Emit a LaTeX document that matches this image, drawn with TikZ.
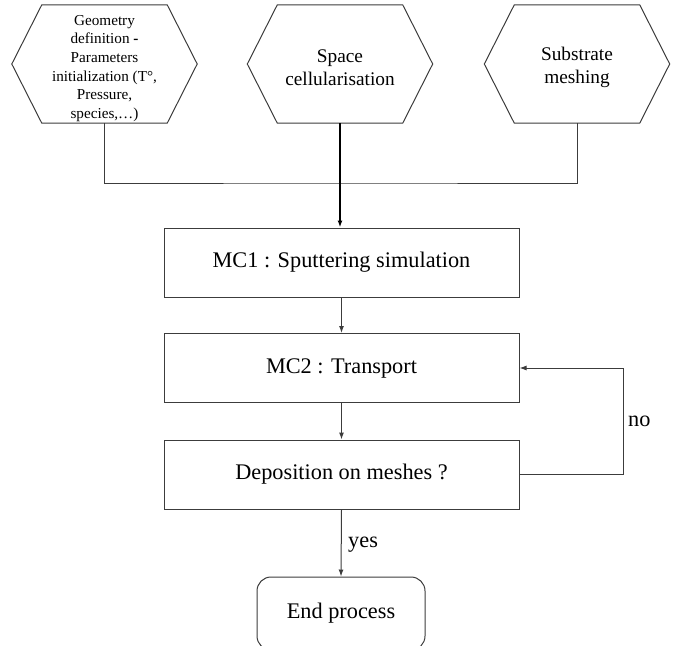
\documentclass[tikz,border=0pt]{standalone}
\usepackage{fontspec}
\setmainfont{Liberation Serif}
\usetikzlibrary{arrows.meta,calc}
\definecolor{edgegray}{HTML}{3C3C3C}
\begin{document}
\begin{tikzpicture}[x=1pt,y=-1pt,
  hexbox/.style={draw=none,minimum width=185pt,minimum height=118pt,align=center,inner sep=0pt},
  procbox/.style={draw=edgegray,line width=1pt,minimum width=355pt,minimum height=69pt,font=\fontsize{22.3}{26}\selectfont},
  endbox/.style={draw=edgegray,line width=1pt,rounded corners=14pt,minimum width=168pt,minimum height=73pt,font=\fontsize{22.3}{26}\selectfont},
  conn/.style={draw=edgegray,line width=1pt},
  thickconn/.style={draw=black,line width=1.8pt},
  tip/.style={-{Latex[length=7pt,width=5pt]}},
  lbl/.style={font=\fontsize{22.3}{26}\selectfont,inner sep=0pt}
]
\useasboundingbox (0,0) rectangle (676,645);
\newcommand{\hexdraw}[1]{%
  \draw[conn] (#1.west) -- ([xshift=30pt]#1.north west) -- ([xshift=-30pt]#1.north east)
    -- (#1.east) -- ([xshift=-30pt]#1.south east) -- ([xshift=30pt]#1.south west) -- cycle;}
\node[hexbox,font=\fontsize{15.2}{18.6}\selectfont] (h1) at (104.5,64)
  {\rule{0pt}{19pt}Geometry\\definition \textbf{-}\\Parameters\\initialization (T°,\\Pressure,\\species,…)};
\node[hexbox,font=\fontsize{19.3}{23}\selectfont] (h2) at (340,64) {\rule{0pt}{20pt}Space\\cellularisation};
\node[hexbox,font=\fontsize{19.3}{23}\selectfont] (h3) at (577,64) {\rule{0pt}{21pt}Substrate\\meshing};
\hexdraw{h1}\hexdraw{h2}\hexdraw{h3}
\node[procbox] (mc1) at (341.5,262.5) {MC1 : Sputtering simulation};
\node[procbox] (mc2) at (341.5,368) {MC2 : Transport};
\node[procbox] (dep) at (341.5,474.5) {Deposition on meshes ?};
\node[endbox] (end) at (341,613.5) {End process};
\coordinate (j) at (340,183);
\draw[conn] (h1.south) |- (j) -| (h3.south);
\draw[thickconn,tip] (h2.south) -- (mc1.north -| h2.south);
\draw[conn,tip] (mc1.south) -- (mc2.north);
\draw[conn,tip] (mc2.south) -- (dep.north);
\draw[conn,tip] (dep.south) -- (end.north);
\coordinate (lr) at (623,474.5);
\draw[conn,tip] (dep.east) -- (lr) |- (mc2.east);
\node[lbl,anchor=west] (no) at (628,421) {no};
\node[lbl,anchor=west] (yes) at (348,545) {yes};
\end{tikzpicture}
\end{document}
